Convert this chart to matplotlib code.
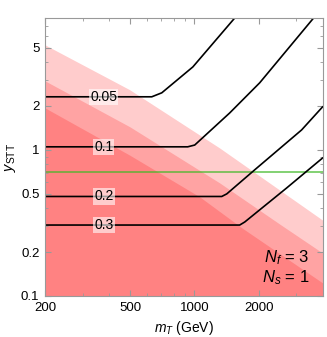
import numpy as np
import matplotlib
matplotlib.use("Agg")
import matplotlib.pyplot as plt

plt.rcParams["font.family"] = ["Liberation Sans", "DejaVu Sans"]
plt.rcParams["mathtext.fontset"] = "custom"
plt.rcParams["mathtext.rm"] = "Liberation Sans"
plt.rcParams["mathtext.it"] = "Liberation Sans:italic"

# ── data ─────────────────────────────────────────────────────────────────────

# shaded exclusion bands (upper boundaries, three stacked translucent layers)
band_m = [200, 499, 1315, 3980]
band_light = [5.24, 2.58, 1.03, 0.331]
band_mid_m = [200, 499, 1315, 2506, 3980]
band_mid = [2.97, 1.44, 0.594, 0.311, 0.197]
band_dark_m = [200, 499, 1060, 1684, 3980]
band_dark = [1.94, 0.92, 0.477, 0.29, 0.123]

# contour lines of constant width/mass
c005_m = [200, 632, 704, 984, 1545]
c005_y = [2.31, 2.31, 2.46, 3.70, 8.0]
c01_m = [200, 931, 1004, 1463, 2022, 3614]
c01_y = [1.05, 1.05, 1.08, 1.79, 2.88, 8.0]
c02_m = [200, 1343, 1418, 1915, 3176, 3980]
c02_y = [0.48, 0.48, 0.50, 0.73, 1.37, 1.97]
c03_m = [200, 1630, 1721, 2704, 3980]
c03_y = [0.306, 0.306, 0.321, 0.549, 0.88]
contours = [(c005_m, c005_y, "0.05"), (c01_m, c01_y, "0.1"),
            (c02_m, c02_y, "0.2"), (c03_m, c03_y, "0.3")]
label_m = 377

green_y = 0.71

xticks = [200, 500, 1000, 2000]
yticks = [0.1, 0.2, 0.5, 1, 2, 5]
ytick_labels = ["0.1", "0.2", "0.5", "1", "2", "5"]

# ── figure ───────────────────────────────────────────────────────────────────

fig = plt.figure(figsize=(3.27, 3.37), dpi=100)
ax = fig.add_axes([0.1376, 0.1217, 0.8502, 0.8249])
ax.set_xscale("log")
ax.set_yscale("log")
ax.set_xlim(200, 4000)
ax.set_ylim(0.1, 8)

for xs, ys in [(band_m, band_light), (band_mid_m, band_mid), (band_dark_m, band_dark)]:
    ax.fill_between(xs, 0.05, ys, color="red", alpha=0.2, lw=0)

ax.axhline(green_y, color=(0.25, 0.72, 0.15), alpha=0.7, lw=1.3)

for xs, ys, lab in contours:
    ax.plot(xs, ys, color="black", lw=1.2)
    ax.text(label_m, ys[0], lab, ha="center", va="center", fontsize=10,
            bbox=dict(facecolor="white", alpha=0.6, edgecolor="none", pad=0.8))

ax.text(0.95, 0.137, r"$N_f$ = 3", transform=ax.transAxes, ha="right",
        va="center", fontsize=12)
ax.text(0.95, 0.065, r"$N_s$ = 1", transform=ax.transAxes, ha="right",
        va="center", fontsize=12)

ax.set_xticks(xticks)
ax.set_xticklabels([str(t) for t in xticks])
ax.set_yticks(yticks)
ax.set_yticklabels(ytick_labels)
ax.tick_params(which="both", direction="in", top=True, right=True,
               color="#999999", labelsize=9.5)
ax.tick_params(which="major", length=4.5, width=0.8, pad=4)
ax.tick_params(which="minor", length=2.5, width=0.6)
ax.xaxis.set_minor_formatter(matplotlib.ticker.NullFormatter())
ax.yaxis.set_minor_formatter(matplotlib.ticker.NullFormatter())
for s in ax.spines.values():
    s.set_color("#999999")
    s.set_linewidth(0.8)

ax.set_xlabel(r"$m_T$ (GeV)", fontsize=10, labelpad=4)
ax.set_ylabel(r"$y_{\rm STT}$", fontsize=10.5, labelpad=2)

fig.savefig("out.png", dpi=100)
